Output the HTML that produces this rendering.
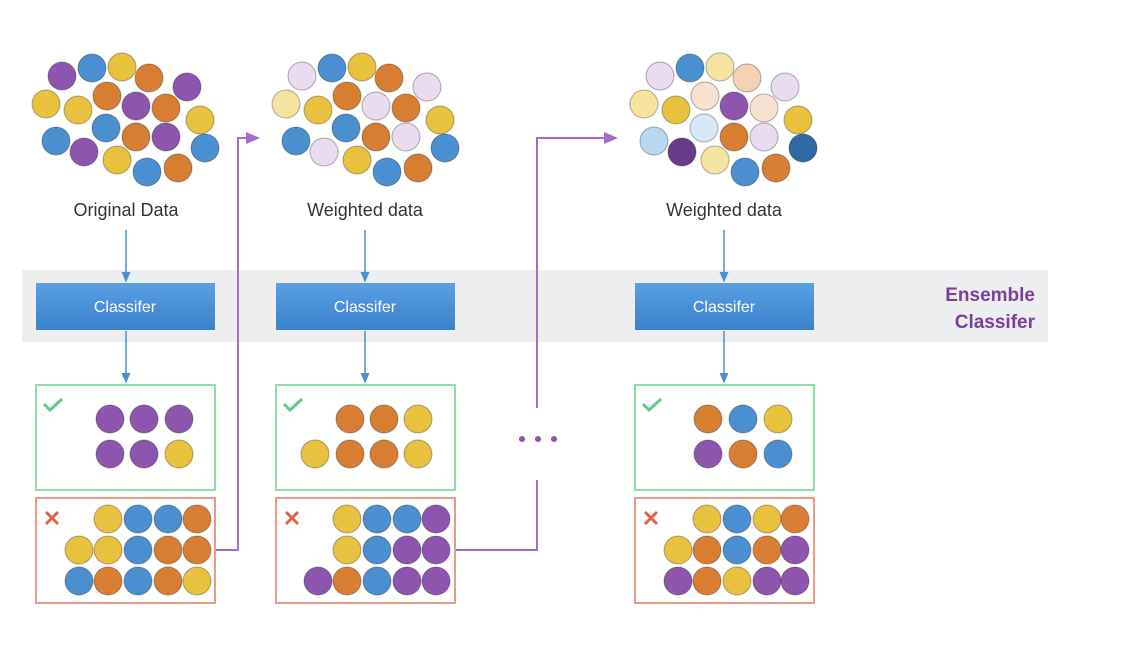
<!DOCTYPE html><html><head><style>body{margin:0;background:#fff}svg{display:block}text{font-family:"Liberation Sans",sans-serif}</style></head><body>
<svg width="1138" height="660" viewBox="0 0 1138 660" xmlns="http://www.w3.org/2000/svg">
<defs><linearGradient id="g" x1="0" y1="0" x2="0" y2="1"><stop offset="0" stop-color="#5aa0e4"/><stop offset="1" stop-color="#3a80cc"/></linearGradient>
<marker id="ab" markerWidth="8" markerHeight="8" refX="6" refY="4" orient="auto"><path d="M0,1 L7,4 L0,7z" fill="#4a90d0"/></marker>
<marker id="ap" markerWidth="8" markerHeight="8" refX="6" refY="4" orient="auto"><path d="M0,1 L7,4 L0,7z" fill="#a56ccc"/></marker></defs>
<rect x="22" y="270" width="1026" height="72" fill="#eceeef"/>
<g fill="url(#g)"><rect x="36" y="283" width="179" height="47"/><rect x="276" y="283" width="179" height="47"/><rect x="635" y="283" width="179" height="47"/></g>
<g fill="#fff" font-size="16" text-anchor="middle"><text x="125" y="312">Classifer</text><text x="365" y="312">Classifer</text><text x="724" y="312">Classifer</text></g>
<g fill="#7a3f9e" font-size="19" text-anchor="end"><text x="1035" y="301" font-weight="700">Ensemble</text><text x="1035" y="328" font-weight="700">Classifer</text></g>
<g fill="#333" font-size="18" text-anchor="middle"><text x="126" y="216">Original Data</text><text x="365" y="216">Weighted data</text><text x="724" y="216">Weighted data</text></g>
<g stroke="#4a90d0" stroke-width="1.5" marker-end="url(#ab)"><line x1="126" y1="230" x2="126" y2="281"/><line x1="126" y1="331" x2="126" y2="382"/><line x1="365" y1="230" x2="365" y2="281"/><line x1="365" y1="331" x2="365" y2="382"/><line x1="724" y1="230" x2="724" y2="281"/><line x1="724" y1="331" x2="724" y2="382"/></g>
<g fill="none" stroke="#a56ccc" stroke-width="2"><path d="M215,550 H238 V138 H258" marker-end="url(#ap)"/><path d="M455,550 H537 V480"/><path d="M537,408 V138 H616" marker-end="url(#ap)"/></g>
<g fill="#8e55ae"><circle cx="522" cy="439" r="3"/><circle cx="538" cy="439" r="3"/><circle cx="554" cy="439" r="3"/></g>
<g fill="none" stroke-width="2"><rect x="36" y="385" width="179" height="105" stroke="#8fdcaa"/><rect x="276" y="385" width="179" height="105" stroke="#8fdcaa"/><rect x="635" y="385" width="179" height="105" stroke="#8fdcaa"/>
<rect x="36" y="498" width="179" height="105" stroke="#ec9a88"/><rect x="276" y="498" width="179" height="105" stroke="#ec9a88"/><rect x="635" y="498" width="179" height="105" stroke="#ec9a88"/></g>
<g fill="none" stroke="#5ccf85" stroke-width="3"><path d="M44,404 l6,6 l12,-11"/><path d="M284,404 l6,6 l12,-11"/><path d="M643,404 l6,6 l12,-11"/></g>
<g stroke="#e0604a" stroke-width="3"><path d="M46,512 l12,12 M58,512 l-12,12"/><path d="M286,512 l12,12 M298,512 l-12,12"/><path d="M645,512 l12,12 M657,512 l-12,12"/></g>
<g id="c" stroke-width="1" stroke-opacity="0.3" stroke="#000">
<circle cx="62" cy="76" r="14" fill="#8e55ae"/><circle cx="92" cy="68" r="14" fill="#4a90d0"/><circle cx="122" cy="67" r="14" fill="#e8c13e"/><circle cx="149" cy="78" r="14" fill="#d87e33"/><circle cx="187" cy="87" r="14" fill="#8e55ae"/>
<circle cx="46" cy="104" r="14" fill="#e8c13e"/><circle cx="78" cy="110" r="14" fill="#e8c13e"/><circle cx="107" cy="96" r="14" fill="#d87e33"/><circle cx="136" cy="106" r="14" fill="#8e55ae"/><circle cx="166" cy="108" r="14" fill="#d87e33"/><circle cx="200" cy="120" r="14" fill="#e8c13e"/>
<circle cx="56" cy="141" r="14" fill="#4a90d0"/><circle cx="106" cy="128" r="14" fill="#4a90d0"/><circle cx="136" cy="137" r="14" fill="#d87e33"/><circle cx="166" cy="137" r="14" fill="#8e55ae"/><circle cx="205" cy="148" r="14" fill="#4a90d0"/>
<circle cx="84" cy="152" r="14" fill="#8e55ae"/><circle cx="117" cy="160" r="14" fill="#e8c13e"/><circle cx="147" cy="172" r="14" fill="#4a90d0"/><circle cx="178" cy="168" r="14" fill="#d87e33"/>
<circle cx="302" cy="76" r="14" fill="#e9dcf1"/><circle cx="332" cy="68" r="14" fill="#4a90d0"/><circle cx="362" cy="67" r="14" fill="#e8c13e"/><circle cx="389" cy="78" r="14" fill="#d87e33"/><circle cx="427" cy="87" r="14" fill="#e9dcf1"/>
<circle cx="286" cy="104" r="14" fill="#f6e3a0"/><circle cx="318" cy="110" r="14" fill="#e8c13e"/><circle cx="347" cy="96" r="14" fill="#d87e33"/><circle cx="376" cy="106" r="14" fill="#e9dcf1"/><circle cx="406" cy="108" r="14" fill="#d87e33"/><circle cx="440" cy="120" r="14" fill="#e8c13e"/>
<circle cx="296" cy="141" r="14" fill="#4a90d0"/><circle cx="346" cy="128" r="14" fill="#4a90d0"/><circle cx="376" cy="137" r="14" fill="#d87e33"/><circle cx="406" cy="137" r="14" fill="#e9dcf1"/><circle cx="445" cy="148" r="14" fill="#4a90d0"/>
<circle cx="324" cy="152" r="14" fill="#e9dcf1"/><circle cx="357" cy="160" r="14" fill="#e8c13e"/><circle cx="387" cy="172" r="14" fill="#4a90d0"/><circle cx="418" cy="168" r="14" fill="#d87e33"/>
<circle cx="660" cy="76" r="14" fill="#e9dcf1"/><circle cx="690" cy="68" r="14" fill="#4a90d0"/><circle cx="720" cy="67" r="14" fill="#f6e3a0"/><circle cx="747" cy="78" r="14" fill="#f3d2b5"/><circle cx="785" cy="87" r="14" fill="#e9dcf1"/>
<circle cx="644" cy="104" r="14" fill="#f6e3a0"/><circle cx="676" cy="110" r="14" fill="#e8c13e"/><circle cx="705" cy="96" r="14" fill="#f7e2d2"/><circle cx="734" cy="106" r="14" fill="#8e55ae"/><circle cx="764" cy="108" r="14" fill="#f7e2d2"/><circle cx="798" cy="120" r="14" fill="#e8c13e"/>
<circle cx="654" cy="141" r="14" fill="#b9d7f1"/><circle cx="704" cy="128" r="14" fill="#d6e7f7"/><circle cx="734" cy="137" r="14" fill="#d87e33"/><circle cx="764" cy="137" r="14" fill="#e9dcf1"/><circle cx="803" cy="148" r="14" fill="#2f6aa3"/>
<circle cx="682" cy="152" r="14" fill="#6a3a8a"/><circle cx="715" cy="160" r="14" fill="#f6e3a0"/><circle cx="745" cy="172" r="14" fill="#4a90d0"/><circle cx="776" cy="168" r="14" fill="#d87e33"/>
<circle cx="110" cy="419" r="14" fill="#8e55ae"/><circle cx="144" cy="419" r="14" fill="#8e55ae"/><circle cx="179" cy="419" r="14" fill="#8e55ae"/>
<circle cx="110" cy="454" r="14" fill="#8e55ae"/><circle cx="144" cy="454" r="14" fill="#8e55ae"/><circle cx="179" cy="454" r="14" fill="#e8c13e"/>
<circle cx="350" cy="419" r="14" fill="#d87e33"/><circle cx="384" cy="419" r="14" fill="#d87e33"/><circle cx="418" cy="419" r="14" fill="#e8c13e"/>
<circle cx="315" cy="454" r="14" fill="#e8c13e"/><circle cx="350" cy="454" r="14" fill="#d87e33"/><circle cx="384" cy="454" r="14" fill="#d87e33"/><circle cx="418" cy="454" r="14" fill="#e8c13e"/>
<circle cx="708" cy="419" r="14" fill="#d87e33"/><circle cx="743" cy="419" r="14" fill="#4a90d0"/><circle cx="778" cy="419" r="14" fill="#e8c13e"/>
<circle cx="708" cy="454" r="14" fill="#8e55ae"/><circle cx="743" cy="454" r="14" fill="#d87e33"/><circle cx="778" cy="454" r="14" fill="#4a90d0"/>
<circle cx="108" cy="519" r="14" fill="#e8c13e"/><circle cx="138" cy="519" r="14" fill="#4a90d0"/><circle cx="168" cy="519" r="14" fill="#4a90d0"/><circle cx="197" cy="519" r="14" fill="#d87e33"/>
<circle cx="79" cy="550" r="14" fill="#e8c13e"/><circle cx="108" cy="550" r="14" fill="#e8c13e"/><circle cx="138" cy="550" r="14" fill="#4a90d0"/><circle cx="168" cy="550" r="14" fill="#d87e33"/><circle cx="197" cy="550" r="14" fill="#d87e33"/>
<circle cx="79" cy="581" r="14" fill="#4a90d0"/><circle cx="108" cy="581" r="14" fill="#d87e33"/><circle cx="138" cy="581" r="14" fill="#4a90d0"/><circle cx="168" cy="581" r="14" fill="#d87e33"/><circle cx="197" cy="581" r="14" fill="#e8c13e"/>
<circle cx="347" cy="519" r="14" fill="#e8c13e"/><circle cx="377" cy="519" r="14" fill="#4a90d0"/><circle cx="407" cy="519" r="14" fill="#4a90d0"/><circle cx="436" cy="519" r="14" fill="#8e55ae"/>
<circle cx="347" cy="550" r="14" fill="#e8c13e"/><circle cx="377" cy="550" r="14" fill="#4a90d0"/><circle cx="407" cy="550" r="14" fill="#8e55ae"/><circle cx="436" cy="550" r="14" fill="#8e55ae"/>
<circle cx="318" cy="581" r="14" fill="#8e55ae"/><circle cx="347" cy="581" r="14" fill="#d87e33"/><circle cx="377" cy="581" r="14" fill="#4a90d0"/><circle cx="407" cy="581" r="14" fill="#8e55ae"/><circle cx="436" cy="581" r="14" fill="#8e55ae"/>
<circle cx="707" cy="519" r="14" fill="#e8c13e"/><circle cx="737" cy="519" r="14" fill="#4a90d0"/><circle cx="767" cy="519" r="14" fill="#e8c13e"/><circle cx="795" cy="519" r="14" fill="#d87e33"/>
<circle cx="678" cy="550" r="14" fill="#e8c13e"/><circle cx="707" cy="550" r="14" fill="#d87e33"/><circle cx="737" cy="550" r="14" fill="#4a90d0"/><circle cx="767" cy="550" r="14" fill="#d87e33"/><circle cx="795" cy="550" r="14" fill="#8e55ae"/>
<circle cx="678" cy="581" r="14" fill="#8e55ae"/><circle cx="707" cy="581" r="14" fill="#d87e33"/><circle cx="737" cy="581" r="14" fill="#e8c13e"/><circle cx="767" cy="581" r="14" fill="#8e55ae"/><circle cx="795" cy="581" r="14" fill="#8e55ae"/>
</g>
</svg></body></html>
